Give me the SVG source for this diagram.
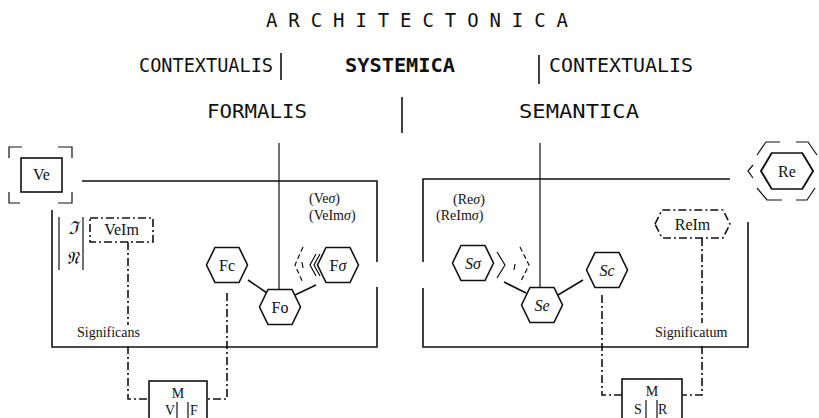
<svg xmlns="http://www.w3.org/2000/svg" width="819" height="418" viewBox="0 0 819 418">
<style>
.hd{font-family:"DejaVu Sans Mono","Liberation Mono",monospace;fill:#111;}
.sr{font-family:"Liberation Serif","DejaVu Serif",serif;fill:#111;font-size:14px;}
.hl{font-size:16px;}
.ln{stroke:#111;stroke-width:1.6;fill:none;}
.th{stroke:#111;stroke-width:1.2;fill:none;}
.ds{stroke:#111;stroke-width:1.6;fill:none;stroke-dasharray:8 3 2 3;}
.hex{stroke:#111;stroke-width:1.6;fill:#fff;}
</style>
<defs>
<polygon id="hx" points="-20.5,0 -12,-17.5 12,-17.5 20.5,0 12,17.5 -12,17.5"/>
</defs>
<rect width="819" height="418" fill="#fff"/>

<g id="headings">
<text class="hd" x="266" y="27" font-size="19" textLength="302" lengthAdjust="spacing">ARCHITECTONICA</text>
<text class="hd" x="139" y="72" font-size="20" textLength="134" lengthAdjust="spacingAndGlyphs">CONTEXTUALIS</text>
<line class="ln" x1="281" y1="53" x2="281" y2="80"/>
<text class="hd" x="345" y="72" font-size="20" font-weight="bold" textLength="110" lengthAdjust="spacingAndGlyphs">SYSTEMICA</text>
<line class="ln" x1="539" y1="55" x2="539" y2="84"/>
<text class="hd" x="549" y="72" font-size="20" textLength="144" lengthAdjust="spacingAndGlyphs">CONTEXTUALIS</text>
<text class="hd" x="207" y="118" font-size="20" textLength="100" lengthAdjust="spacingAndGlyphs">FORMALIS</text>
<line class="ln" x1="402" y1="97" x2="402" y2="133"/>
<text class="hd" x="519" y="118" font-size="20" textLength="120" lengthAdjust="spacingAndGlyphs">SEMANTICA</text>
</g>

<g id="frames">
<polyline class="ln" points="82,181 377,181 377,262"/>
<polyline class="ln" points="377,287 377,347 52,347 52,210"/>
<line class="th" x1="59" y1="217" x2="59" y2="270"/>
<line class="th" x1="83" y1="217" x2="83" y2="270"/>
<polyline class="ln" points="423,262 423,179 730,179"/>
<polyline class="ln" points="423,288 423,347 748,347 748,222"/>
<line class="th" x1="279" y1="143" x2="279" y2="290"/>
<line class="th" x1="540" y1="143" x2="540" y2="288"/>
</g>

<g id="connectors">
<line class="ln" x1="248" y1="280" x2="267" y2="293"/>
<line class="ln" x1="316" y1="285" x2="295" y2="295"/>
<line class="ln" x1="504" y1="282" x2="526" y2="293"/>
<line class="ln" x1="583" y1="280" x2="558" y2="295"/>
<polyline class="ds" points="128,242 128,325"/>
<polyline class="ds" points="128,346 128,399 149,399"/>
<polyline class="ds" points="227,293 227,399 207,399"/>
<polyline class="ds" points="602,295 602,395 622,395"/>
<polyline class="ds" points="702,238 702,323"/>
<polyline class="ds" points="702,346 702,395 682,395"/>
</g>

<g id="Ve">
<rect class="ln" x="21" y="158" width="41" height="34"/>
<polyline class="th" points="9,158 9,147 22,147"/>
<polyline class="th" points="58,147 72,147 72,158"/>
<polyline class="th" points="9,192 9,203 20,203"/>
<polyline class="th" points="58,203 72,203 72,192"/>
<text class="sr hl" x="41.5" y="180" text-anchor="middle">Ve</text>
</g>

<g id="VeIm">
<rect class="ds" x="90" y="218" width="63" height="24" stroke-dasharray="7 3"/>
<text class="sr hl" x="121.5" y="235" text-anchor="middle">VeIm</text>
</g>

<g id="script">
<text x="73" y="234" font-family="'DejaVu Serif',serif" font-size="18" font-style="italic" text-anchor="middle" fill="#111">ℑ</text>
<text x="72" y="264" font-family="'DejaVu Serif',serif" font-size="18" font-style="italic" text-anchor="middle" fill="#111">𝔑</text>
</g>

<g id="Re">
<use href="#hx" x="787" y="171" class="hex" transform="translate(787 171) scale(1.27 1.03) translate(-787 -171)"/>
<text class="sr hl" x="787" y="177" text-anchor="middle">Re</text>
<polyline class="th" points="753,165 748,171 753,178"/>
<polyline class="th" points="757,155 766,142 780,142"/>
<polyline class="th" points="796,142 808,142 817,155"/>
<polyline class="th" points="757,188 767,200 782,200"/>
<polyline class="th" points="796,200 807,200 815,188"/>
</g>

<g id="ReIm">
<polygon class="ds" points="655,224 662,210 723,210 730,224 723,238 662,238"/>
<text class="sr hl" x="692.5" y="230" text-anchor="middle">ReIm</text>
</g>

<g id="Fc"><use href="#hx" x="227" y="265" class="hex"/><text class="sr hl" x="227" y="271" text-anchor="middle">Fc</text></g>
<g id="Fo"><use href="#hx" x="280" y="307" class="hex"/><text class="sr hl" x="280" y="313" text-anchor="middle">Fo</text></g>
<g id="Fsigma"><use href="#hx" x="338" y="265" class="hex"/><text class="sr hl" x="338" y="271" text-anchor="middle">F<tspan font-style="italic">σ</tspan></text>
<polyline class="th" points="316,254 310,265 316,276"/>
<polyline class="th" points="320,254 314,265 320,276"/>
<polyline class="th" points="303,247 295,265 303,283" stroke-dasharray="5 3"/>
<line class="th" x1="302" y1="262" x2="303" y2="268"/>
</g>
<g id="Ssigma"><use href="#hx" x="473" y="263" class="hex"/><text class="sr hl" x="473" y="269" text-anchor="middle" font-style="italic">Sσ</text>
<polyline class="th" points="497,252 505,265 497,278"/>
<polyline class="th" points="520,247 529,265 520,283" stroke-dasharray="5 3"/>
<line class="th" x1="515" y1="264" x2="514" y2="270"/>
</g>
<g id="Se"><use href="#hx" x="542" y="305" class="hex"/><text class="sr hl" x="542" y="311" text-anchor="middle" font-style="italic">Se</text></g>
<g id="Sc"><use href="#hx" x="607" y="270" class="hex"/><text class="sr hl" x="607" y="276" text-anchor="middle" font-style="italic">Sc</text></g>

<g id="labels">
<text class="sr" x="309" y="203" font-size="15">(Ve<tspan font-style="italic">σ</tspan>)</text>
<text class="sr" x="309" y="220" font-size="15">(VeIm<tspan font-style="italic">σ</tspan>)</text>
<text class="sr" x="453" y="204" font-size="15">(Re<tspan font-style="italic">σ</tspan>)</text>
<text class="sr" x="436" y="220" font-size="15">(ReIm<tspan font-style="italic">σ</tspan>)</text>
<text class="sr" x="77" y="337" font-size="13.5">Significans</text>
<text class="sr" x="655" y="337" font-size="13.5">Significatum</text>
</g>

<g id="M-left">
<rect class="ln" x="149" y="381" width="58" height="40"/>
<text class="sr" x="178" y="398" text-anchor="middle" font-size="17">M</text>
<text class="sr" x="165" y="415" font-size="16">V</text>
<line class="th" x1="177" y1="402" x2="177" y2="418"/>
<line class="th" x1="188" y1="402" x2="188" y2="418"/>
<text class="sr" x="190" y="415" font-size="16">F</text>
</g>

<g id="M-right">
<rect class="ln" x="622" y="379" width="60" height="42"/>
<text class="sr" x="652" y="396" text-anchor="middle" font-size="17">M</text>
<text class="sr" x="634" y="414" font-size="16">S</text>
<line class="th" x1="646" y1="400" x2="646" y2="418"/>
<line class="th" x1="657" y1="400" x2="657" y2="418"/>
<text class="sr" x="658" y="414" font-size="16">R</text>
</g>
</svg>
